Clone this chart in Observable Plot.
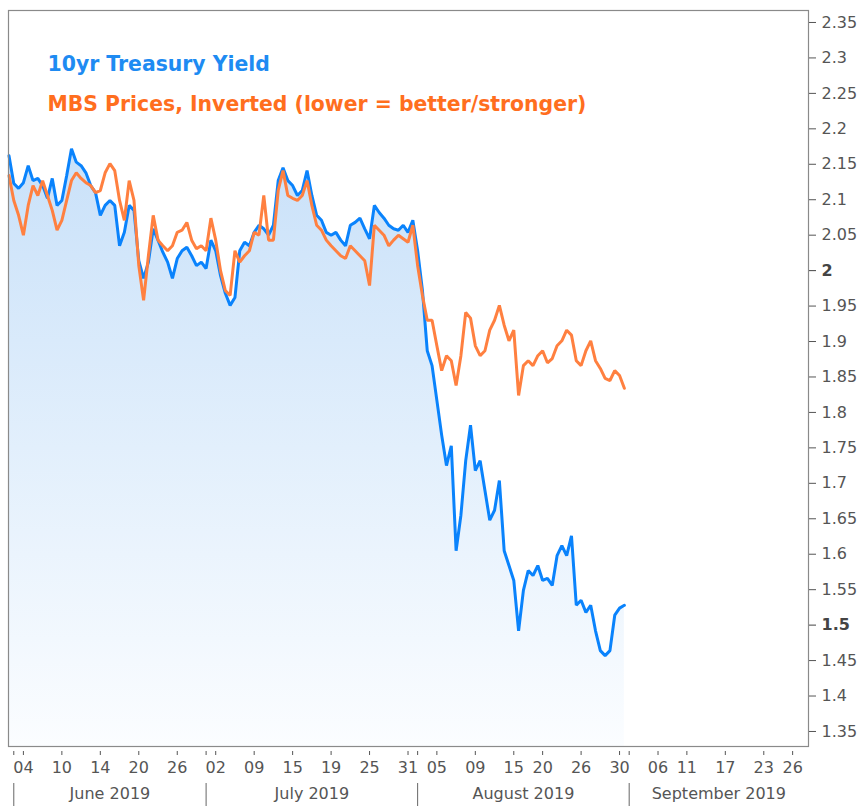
<!DOCTYPE html>
<html>
<head>
<meta charset="utf-8">
<script src="https://cdn.jsdelivr.net/npm/d3@7"></script>
<script src="https://cdn.jsdelivr.net/npm/@observablehq/plot@0.6"></script>
<style>
  body { margin: 0; background: #fff; }
  #chart { width: 864px; height: 806px; }
</style>
</head>
<body>
<div id="chart"></div>
<script>
// Time axis in trading days since 3 June 2019 (index 0), sampled every half day
const seriesStart = -0.5;
const seriesStep = 0.5;

// 10yr Treasury yield (%)
const treasuryYield = [
  2.162, 2.123, 2.116, 2.124, 2.148, 2.127, 2.130, 2.120, 2.102, 2.130,
  2.092, 2.099, 2.134, 2.172, 2.153, 2.148, 2.138, 2.120, 2.110, 2.078,
  2.092, 2.099, 2.092, 2.035, 2.054, 2.092, 2.085, 2.014, 1.989, 2.012,
  2.059, 2.043, 2.026, 2.012, 1.989, 2.017, 2.028, 2.033, 2.021, 2.007,
  2.012, 2.003, 2.043, 2.028, 1.993, 1.968, 1.951, 1.962, 2.028, 2.040,
  2.035, 2.054, 2.064, 2.059, 2.050, 2.064, 2.127, 2.145, 2.127, 2.120,
  2.106, 2.113, 2.141, 2.106, 2.078, 2.071, 2.054, 2.050, 2.054, 2.043,
  2.035, 2.064, 2.068, 2.074, 2.059, 2.045, 2.092, 2.082, 2.074, 2.064,
  2.059, 2.057, 2.064, 2.054, 2.071, 2.028, 1.972, 1.887, 1.866, 1.817,
  1.768, 1.725, 1.753, 1.605, 1.655, 1.732, 1.782, 1.718, 1.732, 1.690,
  1.648, 1.662, 1.704, 1.605, 1.584, 1.563, 1.492, 1.549, 1.577, 1.570,
  1.584, 1.563, 1.566, 1.556, 1.598, 1.612, 1.598, 1.626, 1.528, 1.535,
  1.518, 1.528, 1.492, 1.464, 1.457, 1.464, 1.514, 1.524, 1.528
];

// MBS prices, inverted and scaled to the yield axis
const mbsInverted = [
  2.134, 2.099, 2.078, 2.050, 2.092, 2.120, 2.106, 2.127, 2.106, 2.085,
  2.057, 2.071, 2.099, 2.127, 2.138, 2.130, 2.124, 2.120, 2.110, 2.113,
  2.138, 2.151, 2.141, 2.099, 2.071, 2.127, 2.099, 2.007, 1.958, 2.021,
  2.078, 2.043, 2.035, 2.028, 2.035, 2.054, 2.057, 2.068, 2.043, 2.031,
  2.035, 2.028, 2.074, 2.043, 2.000, 1.972, 1.965, 2.028, 2.012, 2.021,
  2.028, 2.054, 2.050, 2.106, 2.043, 2.043, 2.113, 2.141, 2.106, 2.102,
  2.099, 2.106, 2.127, 2.092, 2.064, 2.057, 2.043, 2.035, 2.028, 2.021,
  2.017, 2.035, 2.028, 2.021, 2.014, 1.979, 2.064, 2.057, 2.050, 2.035,
  2.043, 2.050, 2.045, 2.040, 2.064, 2.007, 1.965, 1.930, 1.930, 1.894,
  1.859, 1.880, 1.873, 1.838, 1.880, 1.941, 1.933, 1.894, 1.880, 1.887,
  1.916, 1.930, 1.951, 1.923, 1.901, 1.916, 1.824, 1.866, 1.873, 1.866,
  1.880, 1.887, 1.870, 1.876, 1.894, 1.901, 1.916, 1.909, 1.873, 1.866,
  1.887, 1.901, 1.873, 1.862, 1.848, 1.845, 1.859, 1.852, 1.834
];

// Bottom axis: trading-day index of each tick and its label
const tickDays   = [0, 1, 5, 9, 13, 17, 20, 21, 25, 29, 33, 37, 41, 42, 44, 48, 52, 55, 59, 63, 64, 67, 70, 74, 78, 81];
const tickLabels = ["", "04", "10", "14", "20", "26", "", "02", "09", "15", "19", "25", "31", "", "05", "09", "15", "20", "26", "30", "", "06", "11", "17", "23", "26"];
const monthStarts = [0, 20, 42, 64];
const monthNames  = ["June 2019", "July 2019", "August 2019", "September 2019"];

// Right axis
const yTicks = [1.35, 1.4, 1.45, 1.5, 1.55, 1.6, 1.65, 1.7, 1.75, 1.8, 1.85, 1.9, 1.95, 2, 2.05, 2.1, 2.15, 2.2, 2.25, 2.3, 2.35];
const boldTicks = [2, 1.5];

// Legend
const legendLabels = ["10yr Treasury Yield", "MBS Prices, Inverted (lower = better/stronger)"];

const xDomain = [-0.55, 82.65];
const yDomain = [1.3288, 2.3669];

const blueData = treasuryYield.map((v, i) => ({t: seriesStart + i * seriesStep, v}));
const orangeData = mbsInverted.map((v, i) => ({t: seriesStart + i * seriesStep, v}));
const labelMap = new Map(tickDays.map((d, i) => [d, tickLabels[i]]));
const monthBounds = [...monthStarts, xDomain[1]];
const monthMid = monthStarts.map((s, i) => (s + monthBounds[i + 1]) / 2);
const monthMap = new Map(monthMid.map((m, i) => [m, monthNames[i]]));

const BLUE = "#0a83fc";
const ORANGE = "#ff8040";

const gradientDefs = () => {
  const defs = d3.create("svg:defs");
  const g = defs.append("linearGradient")
    .attr("id", "areaGrad").attr("x1", 0).attr("y1", 0).attr("x2", 0).attr("y2", 1);
  g.append("stop").attr("offset", "0%").attr("stop-color", "#c9e1f9");
  g.append("stop").attr("offset", "100%").attr("stop-color", "#fbfdff");
  return defs.node();
};

const chart = Plot.plot({
  width: 864,
  height: 806,
  marginTop: 10,
  marginBottom: 60,
  marginLeft: 8,
  marginRight: 56,
  style: {fontFamily: "DejaVu Sans", fontSize: "16px", background: "#fff", color: "#4d4d4d"},
  x: {type: "linear", domain: xDomain, label: null},
  y: {type: "linear", domain: yDomain, label: null},
  marks: [
    gradientDefs,
    Plot.areaY(blueData, {x: "t", y1: yDomain[0], y2: "v", fill: "url(#areaGrad)"}),
    Plot.lineY(blueData, {x: "t", y: "v", stroke: BLUE, strokeWidth: 3, strokeLinejoin: "miter"}),
    Plot.lineY(orangeData, {x: "t", y: "v", stroke: ORANGE, strokeWidth: 3, strokeLinejoin: "miter"}),
    Plot.frame({stroke: "#8a8a8a", strokeWidth: 1.2}),
    Plot.axisY(yTicks.filter(d => !boldTicks.includes(d)), {
      anchor: "right", tickSize: 7, tickPadding: 6, color: "#555", label: null,
      tickFormat: d => String(d), fontSize: 16
    }),
    Plot.axisY(boldTicks, {
      anchor: "right", tickSize: 7, tickPadding: 6, color: "#444", label: null,
      tickFormat: d => String(d), fontSize: 16, fontWeight: "bold"
    }),
    Plot.axisX(tickDays, {
      anchor: "bottom", tickSize: 4, tickPadding: 6, dy: 5, color: "#555", label: null,
      tickFormat: d => labelMap.get(d), fontSize: 16
    }),
    Plot.axisX(monthStarts, {
      anchor: "bottom", tickSize: 24, dy: 37, color: "#666", label: null, tickFormat: () => ""
    }),
    Plot.axisX(monthMid, {
      anchor: "bottom", tickSize: 0, tickPadding: 3, dy: 38, color: "#555", label: null,
      tickFormat: d => monthMap.get(d), fontSize: 16
    }),
    Plot.text([legendLabels[0]], {
      text: d => d, frameAnchor: "top-left", dx: 39, dy: 53.5, lineAnchor: "middle",
      textAnchor: "start", fill: "#1e8bf2", fontSize: 20.4, fontWeight: "bold"
    }),
    Plot.text([legendLabels[1]], {
      text: d => d, frameAnchor: "top-left", dx: 39, dy: 94, lineAnchor: "middle",
      textAnchor: "start", fill: "#ff6e1e", fontSize: 20.4, fontWeight: "bold"
    })
  ]
});

document.getElementById("chart").appendChild(chart);
</script>
</body>
</html>
